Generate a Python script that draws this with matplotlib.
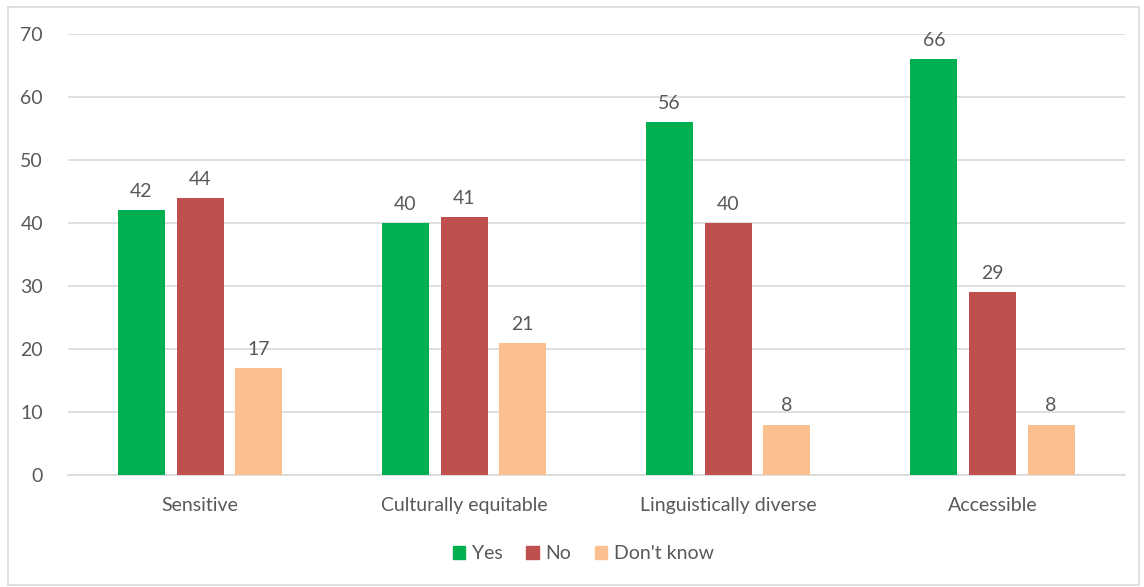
import matplotlib.pyplot as plt
import matplotlib.patches as mpatches
import numpy as np

categories = ["Sensitive", "Culturally equitable", "Linguistically diverse", "Accessible"]
yes = [42, 40, 56, 66]
no = [44, 41, 40, 29]
dont_know = [17, 21, 8, 8]

series = [("Yes", yes, "#00B050"), ("No", no, "#C0504D"), ("Don't know", dont_know, "#FAC090")]

plt.rcParams['font.family'] = ['Lato', 'DejaVu Sans']
text_color = "#595959"

fig = plt.figure(figsize=(11.44, 5.87), dpi=100)
ax = fig.add_axes([0.0594, 0.191, 0.9236, 0.751])

x = np.arange(len(categories))
width = 0.178
step = 0.222
for i, (name, vals, color) in enumerate(series):
    pos = x + (i - 1) * step
    ax.bar(pos, vals, width, color=color, label=name, zorder=3)
    for px, v in zip(pos, vals):
        ax.text(px, v + 1.6, str(v), ha="center", va="bottom", fontsize=14, color=text_color)

ax.set_xlim(-0.5, len(categories) - 0.5)
ax.set_ylim(0, 70)
ax.set_yticks(range(0, 71, 10))
ax.set_xticks(x)
ax.set_xticklabels(categories)
ax.tick_params(axis="both", length=0, labelsize=14, colors=text_color)
ax.tick_params(axis="y", pad=18)
ax.tick_params(axis="x", pad=16)
ax.yaxis.grid(True, color="#D9D9D9", linewidth=1.2, zorder=0)
for side in ["top", "right", "left"]:
    ax.spines[side].set_visible(False)
ax.spines["bottom"].set_color("#D9D9D9")
ax.spines["bottom"].set_linewidth(1.2)

handles = [mpatches.Patch(color=c, label=n) for n, _, c in series]
fig.legend(handles=handles, loc="center", bbox_to_anchor=(0.51, 0.057), ncol=3, frameon=False,
           fontsize=14, handlelength=0.65, handleheight=0.65, handletextpad=0.35, columnspacing=1.2,
           labelcolor=text_color)

# outer chart border
fig.patches.append(mpatches.Rectangle((0.007, 0.003), 0.989, 0.985, transform=fig.transFigure,
                                      fill=False, edgecolor="#D9D9D9", linewidth=1.2))

fig.savefig("out.png", dpi=100)
